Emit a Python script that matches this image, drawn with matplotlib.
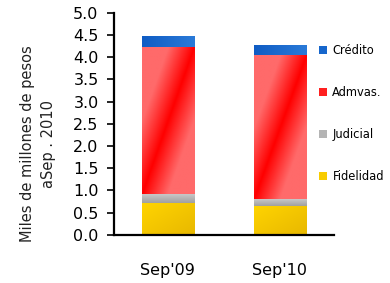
import matplotlib
matplotlib.use("Agg")
import matplotlib.pyplot as plt
import numpy as np
from matplotlib.colors import LinearSegmentedColormap
from matplotlib.patches import Patch

# data (miles de millones de pesos a Sep. 2010)
periodos = ["Sep'09", "Sep'10"]
fidelidad = [0.72, 0.66]
judicial = [0.20, 0.15]
admvas = [3.32, 3.23]
credito = [0.24, 0.24]

series = ["Fidelidad", "Judicial", "Admvas.", "Crédito"]
valores = [fidelidad, judicial, admvas, credito]

# gradient colors for each segment (start, end) and the kind of shading
grad = {
    "Fidelidad": (["#ffd400", "#e8b800"], "diag"),
    "Judicial": (["#c8c8c8", "#a0a0a0"], "vert"),
    "Admvas.": (["#ff0000", "#ff6a6a"], "band"),
    "Crédito": (["#0f5cc4", "#2a7ad8"], "horz"),
}
solid = {"Fidelidad": "#f8cc00", "Judicial": "#b4b4b4",
         "Admvas.": "#ff2020", "Crédito": "#1666cc"}

fig = plt.figure(figsize=(3.9, 2.83), dpi=100)
ax = fig.add_axes([0.292, 0.170, 0.564, 0.785])

x = np.arange(len(periodos))
bottom = np.zeros(len(periodos))
u, v = np.meshgrid(np.linspace(0, 1, 60), np.linspace(1, 0, 120))
for name, vals in zip(series, valores):
    bars = ax.bar(x, vals, width=0.464, bottom=bottom, color="none",
                  edgecolor="none")
    colors, kind = grad[name]
    cmap = LinearSegmentedColormap.from_list(name, colors)
    if kind == "diag":
        field = (u + (1 - v)) / 2
    elif kind == "vert":
        field = 1 - v
    elif kind == "horz":
        field = u
    else:
        field = np.clip(np.abs(u - v) * 2.0, 0, 1)
    for b in bars:
        x0, y0 = b.get_x(), b.get_y()
        im = ax.imshow(field, cmap=cmap, vmin=0, vmax=1, aspect="auto",
                       extent=[x0, x0 + b.get_width(), y0, y0 + b.get_height()],
                       interpolation="bilinear", zorder=2)
        im.set_clip_path(b)
    bottom += np.array(vals)

ax.set_xlim(-0.48, 1.48)
ax.set_ylim(0, 5.0)
ax.set_yticks(np.arange(0, 5.01, 0.5))
ax.set_yticklabels(["%.1f" % t for t in np.arange(0, 5.01, 0.5)])
ax.set_xticks(x)
ax.set_xticklabels(periodos)

for s in ["top", "right"]:
    ax.spines[s].set_visible(False)
for s in ["left", "bottom"]:
    ax.spines[s].set_linewidth(1.6)
    ax.spines[s].set_zorder(5)

ax.tick_params(axis="y", length=5, width=1.2, pad=6, labelsize=11.5)
ax.tick_params(axis="x", length=0, pad=20, labelsize=11.5)

ax.set_ylabel("Miles de millones de pesos\naSep . 2010", fontsize=10.5,
              linespacing=1.55, color="#222222")
ax.yaxis.set_label_coords(-0.262, 0.41)

handles = [Patch(facecolor=solid[n], edgecolor="none") for n in series[::-1]]
fig.legend(handles, series[::-1], loc="upper left",
           bbox_to_anchor=(0.805, 0.86), frameon=False, fontsize=8.3,
           handlelength=0.7, handleheight=0.7, handletextpad=0.5,
           labelspacing=2.5, borderaxespad=0)

fig.savefig("out.png", dpi=100)
